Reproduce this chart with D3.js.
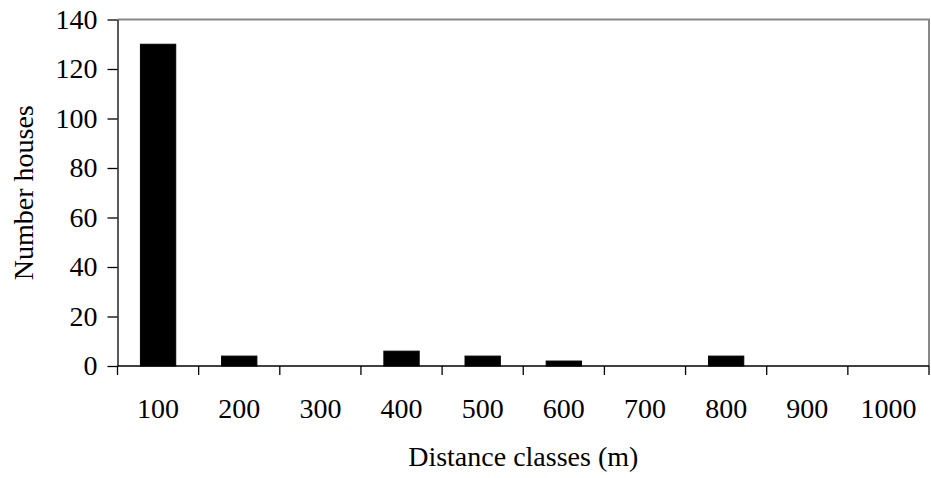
<!DOCTYPE html>
<html><head><meta charset="utf-8">
<script src="https://cdn.jsdelivr.net/npm/d3@7"></script>
<style>body{margin:0;background:#fff}svg{display:block}text{font-family:"Liberation Serif","Times New Roman",serif;fill:#000}</style>
</head><body><svg id="c" width="931" height="478"></svg>
<script>
const categories = ["100","200","300","400","500","600","700","800","900","1000"];
const values = [130,4,0,6,4,2,0,4,0,0];
const yTicks = [0,20,40,60,80,100,120,140];
const xTitle = "Distance classes (m)";
const yTitle = "Number houses";

const svg = d3.select("#c");
const L = 117.5, R = 929, T = 19.5, B = 366;
const x = d3.scaleBand().domain(categories).range([L, R]).paddingInner(0.565).paddingOuter(0.2825);
const y = d3.scaleLinear().domain([0,140]).range([B, T]);
const fs = "28px";

// plot border (top/right gray)
svg.append("path").attr("d", `M${L},${T}H${R}V${B}`).attr("fill","none").attr("stroke","#888").attr("stroke-width",2);

// bars
svg.append("g").selectAll("rect").data(values).join("rect")
  .attr("x",(d,i)=>x(categories[i])).attr("width",x.bandwidth())
  .attr("y",d=>y(d)).attr("height",d=>B-y(d))
  .attr("fill","#000").attr("stroke","#000").attr("stroke-width",1);

// y axis
const ya = svg.append("g").attr("transform",`translate(${L},0)`)
  .call(d3.axisLeft(y).tickValues(yTicks).tickSize(10).tickPadding(10).tickSizeOuter(0));
ya.select(".domain").attr("stroke","#000").attr("stroke-width",1.3);
ya.selectAll(".tick line").attr("stroke","#000").attr("stroke-width",1.3);
ya.selectAll(".tick text").style("font-size",fs).style("font-family",'"Liberation Serif",serif').attr("fill","#000");

// x axis: ticks at band boundaries
const bounds = d3.range(categories.length+1).map(i => L + i*(R-L)/categories.length);
const xa = svg.append("g");
xa.append("line").attr("x1",L).attr("x2",R).attr("y1",B).attr("y2",B).attr("stroke","#000").attr("stroke-width",1.3);
xa.selectAll("line.t").data(bounds).join("line").attr("class","t")
  .attr("x1",d=>d).attr("x2",d=>d).attr("y1",B).attr("y2",B+9).attr("stroke","#000").attr("stroke-width",1.3);
xa.selectAll("text").data(categories).join("text")
  .attr("x",d=>x(d)+x.bandwidth()/2).attr("y",418).attr("text-anchor","middle")
  .style("font-size",fs).text(d=>d);

// titles
svg.append("text").attr("x",(L+R)/2).attr("y",466).attr("text-anchor","middle").style("font-size",fs).text(xTitle);
svg.append("text").attr("transform",`translate(33,${(T+B)/2}) rotate(-90)`).attr("text-anchor","middle").style("font-size",fs).text(yTitle);
</script></body></html>
